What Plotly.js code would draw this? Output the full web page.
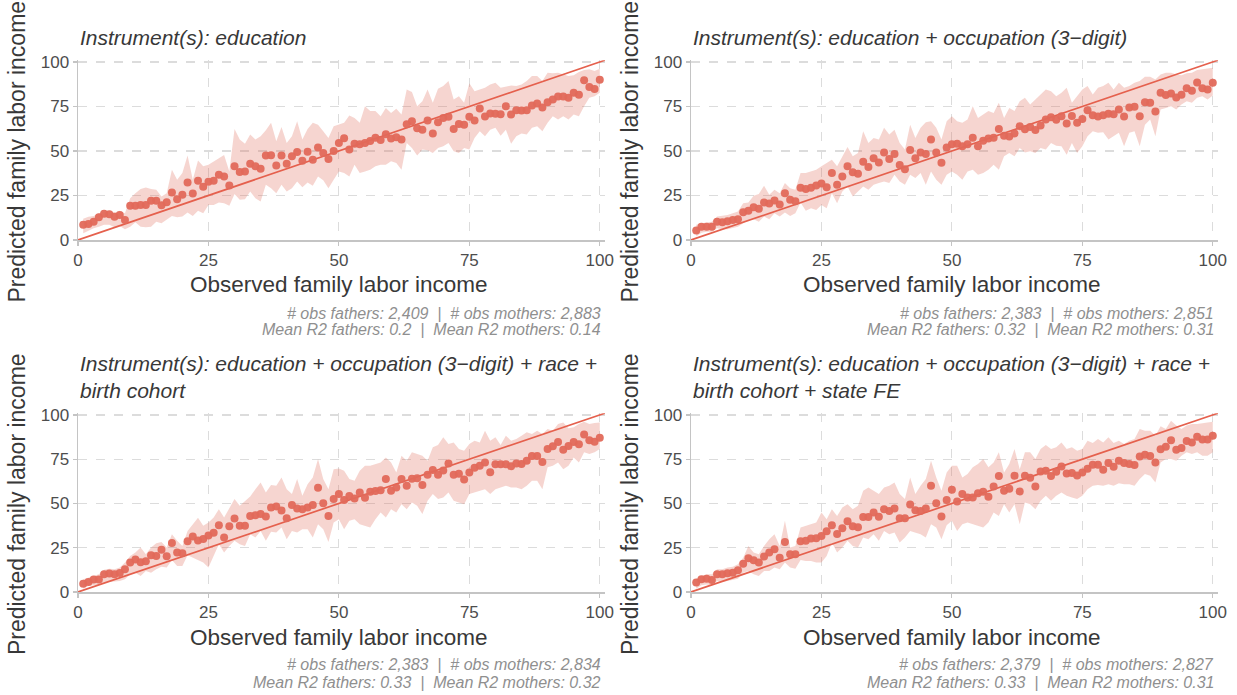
<!DOCTYPE html>
<html><head><meta charset="utf-8">
<script src="https://cdn.plot.ly/plotly-3.0.1.min.js"></script>
<style>html,body{margin:0;padding:0;background:#fff}#chart{width:1237px;height:695px}</style>
</head><body><div id="chart"></div>
<script>
const pct = [1,2,3,4,5,6,7,8,9,10,11,12,13,14,15,16,17,18,19,20,21,22,23,24,25,26,27,28,29,30,31,32,33,34,35,36,37,38,39,40,41,42,43,44,45,46,47,48,49,50,51,52,53,54,55,56,57,58,59,60,61,62,63,64,65,66,67,68,69,70,71,72,73,74,75,76,77,78,79,80,81,82,83,84,85,86,87,88,89,90,91,92,93,94,95,96,97,98,99,100];
const tickVals = [0,25,50,75,100];
const tickText = ["0","25","50","75","100"];

const panelTitles = [
  "Instrument(s): education",
  "Instrument(s): education + occupation (3\u2212digit)",
  "Instrument(s): education + occupation (3\u2212digit) + race +<br>birth cohort",
  "Instrument(s): education + occupation (3\u2212digit) + race +<br>birth cohort + state FE"
];
const obsFathers = ["2,409","2,383","2,383","2,379"];
const obsMothers = ["2,883","2,851","2,834","2,827"];
const r2Fathers = ["0.2","0.32","0.33","0.33"];
const r2Mothers = ["0.14","0.31","0.32","0.31"];
const xTitle = "Observed family labor income";
const yTitle = "Predicted family labor income";

const pred1 = [8.5,9.0,10.3,12.8,14.7,14.5,13.0,14.1,11.3,19.2,19.2,19.7,19.7,22.0,22.0,19.5,21.2,26.7,22.9,25.4,32.3,26.1,33.3,29.9,32.7,33.3,36.7,35.7,30.6,41.4,38.2,38.5,42.9,41.4,40.0,47.4,47.6,41.9,47.4,42.9,47.0,49.4,44.5,49.6,45.1,51.9,48.9,45.5,50.0,54.5,57.1,50.9,54.1,53.8,54.5,55.6,57.5,56.2,59.4,57.0,57.7,56.4,65.0,66.7,62.8,62.0,67.1,59.8,66.2,68.6,69.2,62.4,65.2,64.8,69.2,67.1,73.9,69.4,71.1,70.9,70.7,75.2,70.5,72.9,72.7,72.9,75.6,76.7,74.4,77.4,78.9,80.6,80.6,79.9,82.7,81.6,89.7,85.9,84.8,90.0];
const low1 = [3.8,5.3,6.6,7.5,8.5,8.5,7.1,7.9,6.0,7.5,10.0,7.5,7.1,7.5,10.3,9.4,11.3,13.5,12.8,13.2,15.4,13.5,16.5,15.0,19.7,19.7,21.0,20.7,19.2,25.9,22.6,22.9,27.3,23.5,21.6,31.0,29.1,26.3,31.0,27.3,29.1,32.9,29.7,32.3,30.5,35.7,33.5,29.1,33.8,38.5,37.6,35.7,42.3,37.6,38.5,39.5,41.4,42.3,42.3,44.2,43.2,39.5,54.5,51.7,47.4,50.8,50.4,48.9,51.7,52.6,54.5,49.8,48.9,51.7,50.8,57.3,61.1,58.3,62.0,63.0,58.6,62.0,54.1,58.3,59.8,59.2,63.0,63.9,61.1,65.8,69.5,67.7,69.5,67.7,70.5,69.5,75.2,79.9,80.8,82.7];
const high1 = [12.0,13.0,13.5,15.0,16.0,16.5,15.5,16.4,15.0,23.5,26.3,28.6,29.5,28.6,28.2,24.4,26.3,39.5,33.8,37.6,47.4,33.8,44.7,41.4,42.3,44.2,46.0,47.7,38.5,62.4,56.4,54.1,59.2,56.4,58.3,61.7,65.8,55.5,63.5,54.5,58.3,66.7,56.4,62.4,65.8,64.8,61.1,57.3,63.9,64.8,65.8,69.9,68.6,65.8,75.2,72.4,72.4,69.5,74.2,71.4,73.7,70.5,84.6,83.1,75.2,78.0,84.6,77.1,85.0,86.5,89.3,78.9,80.8,77.1,88.0,83.6,84.6,85.5,87.4,88.3,85.5,86.1,86.8,86.5,87.4,89.3,92.1,92.1,89.3,94.0,93.6,94.0,93.0,92.1,92.5,94.4,95.5,95.9,94.9,96.2];

const pred2 = [5.3,7.5,7.5,7.5,10.2,10.0,10.5,11.3,11.7,15.6,16.5,18.4,17.5,21.1,20.5,22.2,19.9,26.3,22.6,21.8,29.3,28.6,29.3,30.6,31.8,29.7,37.6,31.0,35.7,41.4,38.0,37.2,44.0,41.0,45.9,43.6,49.1,45.5,48.3,42.1,39.8,50.6,45.9,49.2,48.3,56.4,49.1,43.4,51.9,53.8,54.1,52.6,53.8,57.5,52.6,55.8,57.0,57.5,62.4,58.6,58.1,59.8,63.9,62.2,63.5,61.8,64.3,67.7,69.0,67.5,69.5,65.4,69.7,65.8,67.9,72.9,70.1,69.4,70.1,70.9,70.7,73.3,69.4,74.4,74.8,69.5,77.4,77.1,72.2,82.7,81.4,82.3,80.1,81.6,85.3,83.8,88.5,85.3,84.6,88.3];
const low2 = [1.9,4.1,4.7,4.7,6.6,6.0,6.0,6.6,7.5,9.4,11.3,11.7,10.3,13.2,11.7,15.0,13.2,15.4,13.5,15.0,21.1,16.5,17.9,16.9,19.7,17.9,26.3,20.7,27.3,30.1,24.4,27.3,30.1,28.2,31.0,32.0,32.9,32.0,36.7,32.9,31.0,36.7,34.8,37.6,31.0,38.5,33.8,31.0,36.7,38.5,36.7,33.8,38.5,39.5,36.7,37.6,39.5,42.3,39.5,47.0,48.9,47.0,51.7,49.2,49.8,48.9,51.7,50.8,54.5,53.0,52.6,47.9,54.5,48.9,52.6,58.3,61.1,60.2,60.5,56.4,58.3,60.2,52.6,60.2,61.1,52.6,64.8,67.7,58.3,73.3,74.2,75.2,73.3,76.1,78.0,77.1,79.9,80.8,78.9,81.2];
const high2 = [8.5,9.4,9.8,10.3,13.2,13.5,14.1,15.0,16.0,20.7,21.1,24.8,25.9,30.5,25.4,28.2,26.3,32.0,29.1,28.2,37.6,37.6,38.5,39.5,41.4,43.2,45.1,41.4,47.0,52.3,47.0,48.9,61.1,54.5,57.3,56.4,63.0,59.2,62.0,54.5,50.8,64.8,57.3,63.0,66.2,66.7,63.0,56.4,66.7,69.5,66.7,65.8,67.7,75.2,68.6,70.5,72.4,71.4,77.1,68.6,74.2,72.4,78.0,79.9,76.1,78.9,81.8,84.6,83.6,80.8,82.7,85.5,77.1,80.8,84.6,86.5,81.8,85.5,86.5,88.3,84.6,88.3,85.5,86.5,88.3,89.3,91.7,91.7,90.2,93.0,94.0,94.0,93.0,92.5,93.6,94.0,95.5,95.9,96.2,96.8];

const pred3 = [4.7,5.7,7.0,7.0,10.0,10.4,10.0,10.8,12.8,16.6,18.3,16.8,17.4,20.8,20.4,23.8,20.2,27.7,22.3,21.9,28.7,31.3,29.1,30.0,31.9,33.4,37.7,30.8,37.2,41.5,37.4,37.4,43.0,43.4,44.0,42.6,47.7,48.3,46.0,41.7,49.1,47.2,46.8,47.7,49.1,58.9,50.2,43.0,52.5,55.3,51.9,54.2,52.8,56.2,53.2,56.6,57.0,57.5,63.8,57.2,59.1,63.8,60.0,64.0,64.3,60.4,66.2,68.9,66.2,68.7,72.6,66.2,66.8,63.6,67.5,70.2,71.3,73.2,67.7,72.1,72.1,72.1,71.1,72.6,72.3,74.2,76.8,76.8,73.4,80.8,82.3,84.7,80.4,82.5,84.7,83.4,88.9,85.7,84.9,87.2];
const low3 = [1.9,3.4,3.8,4.0,5.3,5.7,5.8,6.2,7.2,10.0,10.9,9.1,11.9,10.9,12.8,14.3,13.8,18.1,14.7,14.7,20.8,19.4,18.1,16.6,13.8,20.4,27.0,22.3,26.0,28.9,27.0,26.0,32.6,30.8,34.5,28.9,34.0,33.6,36.4,29.8,34.5,33.6,35.5,35.5,30.8,38.3,35.5,28.3,39.2,41.1,35.5,40.2,41.1,38.3,37.4,36.4,41.1,44.9,42.1,46.8,44.9,49.6,46.8,50.6,48.7,44.0,51.5,55.3,52.5,53.4,56.2,51.5,50.6,49.6,55.3,56.2,57.2,58.1,55.3,58.1,59.1,60.0,59.1,59.1,58.1,60.0,62.8,62.8,58.1,70.4,71.3,73.2,69.4,71.3,76.0,73.2,78.9,77.9,78.9,80.8];
const high3 = [7.2,8.1,9.4,10.0,12.5,13.2,12.8,13.8,16.6,20.4,22.3,25.1,21.3,25.1,27.5,28.3,25.1,32.6,28.9,26.0,34.5,38.3,42.0,37.4,39.2,42.1,46.8,42.1,47.7,52.5,48.7,51.5,54.0,58.1,61.9,56.2,60.4,60.0,64.7,58.1,55.3,63.8,54.3,60.9,64.7,75.1,63.8,58.1,69.4,69.8,68.5,63.8,62.8,68.5,71.3,71.3,72.3,73.2,76.0,73.2,67.5,77.0,74.2,78.9,77.9,77.0,74.2,81.7,83.0,87.4,83.6,84.5,80.8,79.8,83.6,85.5,84.5,91.1,85.5,87.4,83.0,88.3,85.5,86.4,88.3,90.2,89.2,91.1,89.2,92.1,91.1,94.9,95.8,92.5,93.0,94.9,96.2,94.9,95.5,95.8];

const pred4 = [5.3,7.2,7.5,6.8,10.0,10.0,10.6,10.9,12.3,16.0,19.1,17.9,16.6,20.0,22.3,24.2,19.4,28.3,21.3,21.3,28.7,28.9,30.2,30.4,31.7,34.3,37.7,32.8,36.0,40.0,37.2,36.6,42.3,42.3,44.9,42.5,46.8,45.8,47.2,41.7,41.7,49.4,46.2,45.7,47.2,60.0,50.2,42.6,51.9,57.7,51.1,55.3,53.4,53.4,55.8,56.6,53.8,59.6,65.5,57.2,58.3,65.7,56.8,65.7,64.5,59.6,68.1,68.5,65.5,67.9,70.9,67.0,67.2,65.8,67.5,69.6,71.9,71.9,69.1,72.8,70.8,74.2,72.8,72.3,71.7,76.6,77.5,76.8,73.2,80.6,82.1,85.7,80.4,81.3,85.3,84.5,87.7,86.2,86.2,88.3];
const low4 = [1.9,3.8,4.3,3.8,6.2,5.7,6.2,6.8,7.5,10.9,11.9,10.0,9.1,11.9,11.9,13.8,12.8,16.6,13.8,13.2,18.1,17.5,17.5,16.6,16.6,20.4,27.9,22.3,25.1,28.9,26.0,25.1,30.8,29.8,32.6,28.9,34.5,32.6,33.6,27.9,30.8,34.5,33.6,32.6,30.8,38.3,36.4,29.8,37.7,40.2,34.5,38.3,39.2,38.3,37.4,36.4,39.2,44.9,43.0,49.6,44.9,49.6,38.3,50.6,49.6,46.8,51.5,54.3,51.5,54.3,56.2,54.3,53.4,52.5,54.3,58.1,60.0,60.4,60.0,60.9,60.0,61.5,60.9,60.9,60.0,63.8,66.6,65.7,61.9,73.2,75.1,75.1,74.2,77.0,78.9,77.9,78.9,77.0,77.0,78.9];
const high4 = [7.5,9.1,10.0,10.0,12.8,12.8,13.8,14.3,15.7,19.4,26.0,22.3,21.3,26.0,29.8,32.6,26.0,40.2,25.1,26.0,36.4,37.4,38.3,39.2,44.9,41.1,46.8,43.0,47.7,49.6,46.8,48.7,57.2,59.1,57.2,55.3,59.1,60.0,61.9,55.3,52.5,64.7,55.3,60.0,63.8,74.2,64.7,57.2,67.5,71.3,71.3,64.7,66.6,70.4,72.3,75.1,70.4,73.2,78.9,67.5,72.3,80.8,69.4,78.9,78.9,75.1,80.8,83.0,80.8,81.7,84.5,80.8,81.7,79.8,80.8,85.5,84.2,86.4,84.5,87.4,84.2,85.5,83.6,85.5,86.4,92.1,91.1,91.1,88.3,93.6,92.1,96.8,94.0,92.1,94.0,94.9,94.9,95.5,95.8,96.2];

const refLine = [0,101];

const preds = [pred1,pred2,pred3,pred4];
const lows = [low1,low2,low3,low4];
const highs = [high1,high2,high3,high4];

const W = 1237, H = 695;
const px = v => v / W;
const py = v => 1 - v / H;
// plot-area pixel boxes [left, right, top, bottom]
const boxes = [
  [78, 605, 60.2, 240],
  [691, 1218, 60.2, 240],
  [78, 605, 413.2, 592],
  [691, 1218, 413.2, 592]
];

const FONT = "Liberation Sans, Arial, sans-serif";
const ptColor = "#E2695A";
const lineColor = "#E5604D";
const ribbonColor = "rgba(225,115,98,0.30)";

const traces = [];
const layout = {
  width: W, height: H,
  margin: {l:0, r:0, t:0, b:0},
  paper_bgcolor: "#ffffff", plot_bgcolor: "#ffffff",
  showlegend: false,
  font: {family: FONT},
  annotations: []
};

for (let k = 0; k < 4; k++) {
  const sfx = k === 0 ? "" : String(k + 1);
  const xa = "x" + sfx, ya = "y" + sfx;
  traces.push({x: pct, y: lows[k], xaxis: xa, yaxis: ya, type: "scatter", mode: "lines",
    line: {width: 0, color: ribbonColor}, hoverinfo: "skip"});
  traces.push({x: pct, y: highs[k], xaxis: xa, yaxis: ya, type: "scatter", mode: "lines",
    line: {width: 0, color: ribbonColor}, fill: "tonexty", fillcolor: ribbonColor, hoverinfo: "skip"});
  traces.push({x: refLine, y: refLine, xaxis: xa, yaxis: ya, type: "scatter", mode: "lines",
    line: {width: 1.7, color: lineColor}});
  traces.push({x: pct, y: preds[k], xaxis: xa, yaxis: ya, type: "scatter", mode: "markers",
    marker: {size: 8, color: ptColor, opacity: 0.95}});

  const b = boxes[k];
  const axCommon = {
    range: [0, 101], tickvals: tickVals, ticktext: tickText,
    showgrid: true, gridcolor: "#dcdcdc", griddash: "dash", gridwidth: 1.2,
    showline: true, linecolor: "#c4c4c4", linewidth: 1.5,
    ticks: "outside", ticklen: 4, tickcolor: "#c4c4c4", tickwidth: 1.2,
    zeroline: false, automargin: false,
    tickfont: {family: FONT, size: 17, color: "#4d4d4d"}
  };
  layout["xaxis" + sfx] = Object.assign({}, axCommon, {domain: [px(b[0]), px(b[1])], anchor: ya});
  layout["yaxis" + sfx] = Object.assign({}, axCommon, {domain: [py(b[3]), py(b[2])], anchor: xa});

  const left = b[0], right = b[1] - 2;
  const top = k < 2;
  // panel title
  layout.annotations.push({xref: "paper", yref: "paper", x: px(left), y: py(top ? 37 : 377.5),
    xanchor: "left", yanchor: "middle", align: "left", showarrow: false, text: panelTitles[k],
    font: {family: FONT, size: 21, color: "#383838", style: "italic"}});
  // x title
  layout.annotations.push({xref: "paper", yref: "paper", x: px((b[0] + b[1] - 5) / 2), y: py(top ? 284 : 637),
    xanchor: "center", yanchor: "middle", showarrow: false, text: xTitle,
    font: {family: FONT, size: 22.5, color: "#383838"}});
  // y title
  layout.annotations.push({xref: "paper", yref: "paper", x: px(b[0] - 61), y: py((b[2] + b[3]) / 2 + 1.5),
    xanchor: "center", yanchor: "middle", textangle: -90, showarrow: false, text: yTitle,
    font: {family: FONT, size: 23, color: "#383838"}});
  // notes
  layout.annotations.push({xref: "paper", yref: "paper", x: px(right), y: py(top ? 313 : 664),
    xanchor: "right", yanchor: "middle", showarrow: false,
    text: "# obs fathers: " + obsFathers[k] + " \u00a0|\u00a0 # obs mothers: " + obsMothers[k],
    font: {family: FONT, size: 16, color: "#8f8f8f", style: "italic"}});
  layout.annotations.push({xref: "paper", yref: "paper", x: px(right), y: py(top ? 329 : 682),
    xanchor: "right", yanchor: "middle", showarrow: false,
    text: "Mean R2 fathers: " + r2Fathers[k] + " \u00a0|\u00a0 Mean R2 mothers: " + r2Mothers[k],
    font: {family: FONT, size: 16, color: "#8f8f8f", style: "italic"}});
}

Plotly.newPlot("chart", traces, layout, {displayModeBar: false, staticPlot: true});
</script>
</body></html>
